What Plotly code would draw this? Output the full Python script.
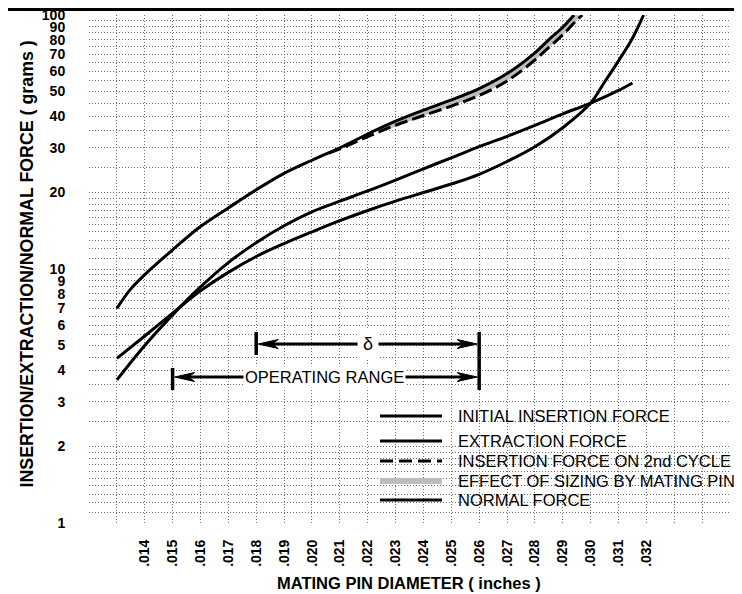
import plotly.graph_objects as go

# ---------------- data ----------------
x_tick_vals = [0.012, 0.013, 0.014, 0.015, 0.016, 0.017, 0.018, 0.019, 0.020, 0.021, 0.022,
               0.023, 0.024, 0.025, 0.026, 0.027, 0.028, 0.029, 0.030, 0.031, 0.032,
               0.033, 0.034, 0.035]
x_tick_text = ["", "", ".014", ".015", ".016", ".017", ".018", ".019", ".020", ".021", ".022",
               ".023", ".024", ".025", ".026", ".027", ".028", ".029", ".030", ".031", ".032",
               "", "", ""]

y_tick_vals = [1, 2, 3, 4, 5, 6, 7, 8, 9, 10, 20, 30, 40, 50, 60, 70, 80, 90, 100]
y_tick_text = ["1", "2", "3", "4", "5", "6", "7", "8", "9", "10",
               "20", "30", "40", "50", "60", "70", "80", "90", "100"]
y_minor_grid = [1.1, 1.2, 1.3, 1.4, 1.5, 1.6, 1.7, 1.8, 1.9,
                2.5, 3.5, 4.5, 5.5, 6.5, 7.5, 8.5, 9.5,
                11, 12, 13, 14, 15, 16, 17, 18, 19,
                25, 35, 45, 55, 65, 75, 85, 95]

# INITIAL INSERTION FORCE (top solid curve)
initial_x = [0.013, 0.0135, 0.014, 0.015, 0.016, 0.017, 0.018, 0.019, 0.020, 0.021, 0.022,
             0.023, 0.024, 0.025, 0.026, 0.027, 0.028, 0.0285, 0.029, 0.0294]
initial_y = [7.0, 8.35, 9.5, 11.9, 14.7, 17.4, 20.5, 23.8, 26.8, 30.0, 34.0,
             38.2, 42.2, 46.3, 51.3, 58.8, 71.0, 80.0, 89.5, 100]

# INSERTION FORCE ON 2nd CYCLE (dashed)
second_x = [0.0206, 0.021, 0.022, 0.023, 0.024, 0.025, 0.026, 0.027, 0.028, 0.0285,
            0.029, 0.0294, 0.0297]
second_y = [28.6, 29.7, 33.2, 36.8, 40.2, 43.8, 48.2, 55.0, 66.5, 74.5,
            83.5, 93.0, 100]

# EFFECT OF SIZING BY MATING PIN (gray band)
sizing_x = [0.0225, 0.023, 0.024, 0.025, 0.026, 0.027, 0.028, 0.0285, 0.029, 0.0294, 0.02955]
sizing_y = [35.5, 37.5, 41.2, 45.0, 49.7, 56.9, 68.7, 77.2, 86.4, 96.4, 100]

# EXTRACTION FORCE (S-shaped curve)
extraction_x = [0.013, 0.014, 0.015, 0.016, 0.017, 0.018, 0.019, 0.020, 0.021, 0.022,
                0.023, 0.024, 0.025, 0.026, 0.027, 0.028, 0.029, 0.030, 0.0305, 0.031,
                0.0315, 0.0319]
extraction_y = [4.45, 5.45, 6.7, 8.2, 9.7, 11.2, 12.6, 14.0, 15.5, 17.0,
                18.5, 20.0, 21.6, 23.6, 26.5, 30.3, 36.0, 45.0, 54.5, 66.0,
                81.0, 100]

# NORMAL FORCE
normal_x = [0.013, 0.014, 0.015, 0.016, 0.017, 0.018, 0.019, 0.020, 0.021, 0.022,
            0.023, 0.024, 0.025, 0.026, 0.027, 0.028, 0.029, 0.030, 0.031, 0.0315]
normal_y = [3.66, 5.0, 6.6, 8.5, 10.6, 12.7, 14.8, 16.8, 18.5, 20.3,
            22.4, 24.8, 27.4, 30.3, 33.3, 36.8, 40.8, 45.0, 50.5, 54.0]

operating_range = [0.015, 0.026]
delta_range = [0.018, 0.026]

legend_labels = ["INITIAL INSERTION FORCE", "EXTRACTION FORCE",
                 "INSERTION FORCE ON 2nd CYCLE", "EFFECT OF SIZING BY MATING PIN",
                 "NORMAL FORCE"]

# ---------------- layout geometry (page pixels) ----------------
VW, VH = 742, 594          # browser window
OFF = 8                    # default body margin of the page
W, H = VW - OFF, VH - OFF  # figure size
PL, PR, PT, PB = 89, 730, 15, 523   # plot area in page pixels
X0, X1 = 0.012, 0.035
FONT = "Liberation Sans, Arial, Helvetica, sans-serif"


def fx(p):
    return (p - PL) / (PR - PL)


def fy(p):
    return (PB - p) / (PB - PT)


def dxd(p):  # pixel length -> x data units
    return p * (X1 - X0) / (PR - PL)


fig = go.Figure()

fig.add_trace(go.Scatter(x=sizing_x, y=sizing_y, mode="lines", line_shape="spline",
                         line=dict(color="#bdbdbd", width=6), name=legend_labels[3],
                         showlegend=False, hoverinfo="skip"))
fig.add_trace(go.Scatter(x=second_x, y=second_y, mode="lines", line_shape="spline",
                         line=dict(color="black", width=3, dash="13px,5px"),
                         name=legend_labels[2], showlegend=False))
fig.add_trace(go.Scatter(x=initial_x, y=initial_y, mode="lines", line_shape="spline",
                         line=dict(color="black", width=3), name=legend_labels[0],
                         showlegend=False))
fig.add_trace(go.Scatter(x=extraction_x, y=extraction_y, mode="lines", line_shape="spline",
                         line=dict(color="black", width=3), name=legend_labels[1],
                         showlegend=False))
fig.add_trace(go.Scatter(x=normal_x, y=normal_y, mode="lines", line_shape="spline",
                         line=dict(color="black", width=3), name=legend_labels[4],
                         showlegend=False))

shapes = []
annotations = []

# top heavy rule (scan border)
shapes.append(dict(type="line", xref="paper", yref="paper", x0=fx(OFF), x1=fx(VW),
                   y0=fy(OFF + 1.5), y1=fy(OFF + 1.5), line=dict(color="black", width=3)))


def vbar(xd, ytop, ybot, w=3.5):
    shapes.append(dict(type="line", xref="x", yref="paper", x0=xd, x1=xd,
                       y0=fy(ytop), y1=fy(ybot), line=dict(color="black", width=w)))


def hline_x(xa, xb, yp, w=3):
    shapes.append(dict(type="line", xref="x", yref="paper", x0=xa, x1=xb,
                       y0=fy(yp), y1=fy(yp), line=dict(color="black", width=w)))


def arrowhead(xtip, yp, direction, L=20, h=4.5, notch=14):
    s = direction
    y = fy(yp)
    hh = h / (PB - PT)
    path = (f"M {xtip},{y} L {xtip + s * dxd(L)},{y + hh} "
            f"L {xtip + s * dxd(notch)},{y} L {xtip + s * dxd(L)},{y - hh} Z")
    shapes.append(dict(type="path", xref="x", yref="paper", path=path,
                       fillcolor="black", line=dict(color="black", width=1)))


# operating range
OP_Y, D_Y = 377, 344
vbar(operating_range[0], 368, 390)
vbar(operating_range[1], 332, 390)
hline_x(operating_range[0] + dxd(12), operating_range[1] - dxd(12), OP_Y)
arrowhead(operating_range[0] + dxd(2), OP_Y, 1)
arrowhead(operating_range[1] - dxd(2), OP_Y, -1)
# delta
vbar(delta_range[0], 332, 355)
hline_x(delta_range[0] + dxd(12), delta_range[1] - dxd(12), D_Y)
arrowhead(delta_range[0] + dxd(2), D_Y, 1)
arrowhead(delta_range[1] - dxd(2), D_Y, -1)

annotations.append(dict(x=(operating_range[0] + operating_range[1]) / 2 - dxd(1),
                        xref="x", yref="paper", y=fy(OP_Y), text="OPERATING RANGE",
                        xanchor="center", yanchor="middle",
                        showarrow=False, bgcolor="white", borderpad=1,
                        font=dict(family=FONT, size=16.5, color="black")))
annotations.append(dict(x=(delta_range[0] + delta_range[1]) / 2,
                        xref="x", yref="paper", y=fy(D_Y), text="δ",
                        xanchor="center", yanchor="middle",
                        showarrow=False, bgcolor="white", borderpad=5,
                        font=dict(family=FONT, size=18, color="black")))

# manual legend
rows = [416, 441, 461, 481, 500]
for i, lab in enumerate(legend_labels):
    yp = rows[i]
    if i == 2:
        ln = dict(color="black", width=3, dash="13px,6px")
    elif i == 3:
        ln = dict(color="#bdbdbd", width=6)
    else:
        ln = dict(color="black", width=3)
    shapes.append(dict(type="line", xref="paper", yref="paper", x0=fx(380), x1=fx(442),
                       y0=fy(yp), y1=fy(yp), line=ln))
    annotations.append(dict(x=fx(456), y=fy(yp), xref="paper", yref="paper", text=lab,
                            xanchor="left", yanchor="middle", showarrow=False,
                            font=dict(family=FONT, size=16.5, color="black")))

# axis titles
annotations.append(dict(x=fx(409), y=fy(583), xref="paper", yref="paper",
                        text="MATING PIN DIAMETER ( inches )", showarrow=False,
                        xanchor="center", yanchor="middle",
                        font=dict(family=FONT, size=16.5, color="black", weight="bold")))
annotations.append(dict(x=fx(26.5), y=fy(264), xref="paper", yref="paper",
                        text="INSERTION/EXTRACTION/NORMAL FORCE ( grams )", textangle=-90,
                        xanchor="center", yanchor="middle", showarrow=False,
                        font=dict(family=FONT, size=17.8, color="black", weight="bold")))

GRIDC = "#6e6e6e"
GRIDD = "1px,2px"

fig.update_layout(
    width=W, height=H,
    margin=dict(l=PL - OFF, r=VW - PR, t=PT - OFF, b=VH - PB, autoexpand=False),
    paper_bgcolor="white", plot_bgcolor="white",
    showlegend=False,
    shapes=shapes, annotations=annotations,
    xaxis=dict(range=[X0, X1], tickvals=x_tick_vals, ticktext=x_tick_text,
               tickangle=-90, ticks="outside", ticklen=0, ticklabelstandoff=10,
               ticklabeloverflow="allow",
               zeroline=False, showline=False, automargin=False,
               showgrid=True, gridcolor=GRIDC, griddash=GRIDD, gridwidth=1,
               tickfont=dict(family=FONT, size=14, color="black", weight="bold")),
    yaxis=dict(type="log", range=[0, 2], tickvals=y_tick_vals, ticktext=y_tick_text,
               ticks="outside", ticklen=0, ticklabelstandoff=20, zeroline=False,
               ticklabeloverflow="allow",
               showline=False, automargin=False,
               showgrid=True, gridcolor=GRIDC, griddash=GRIDD, gridwidth=1,
               tickfont=dict(family=FONT, size=14, color="black", weight="bold"),
               minor=dict(tickvals=y_minor_grid, ticks="", showgrid=True,
                          gridcolor=GRIDC, griddash=GRIDD, gridwidth=1)),
)

fig.write_html("out.html")
